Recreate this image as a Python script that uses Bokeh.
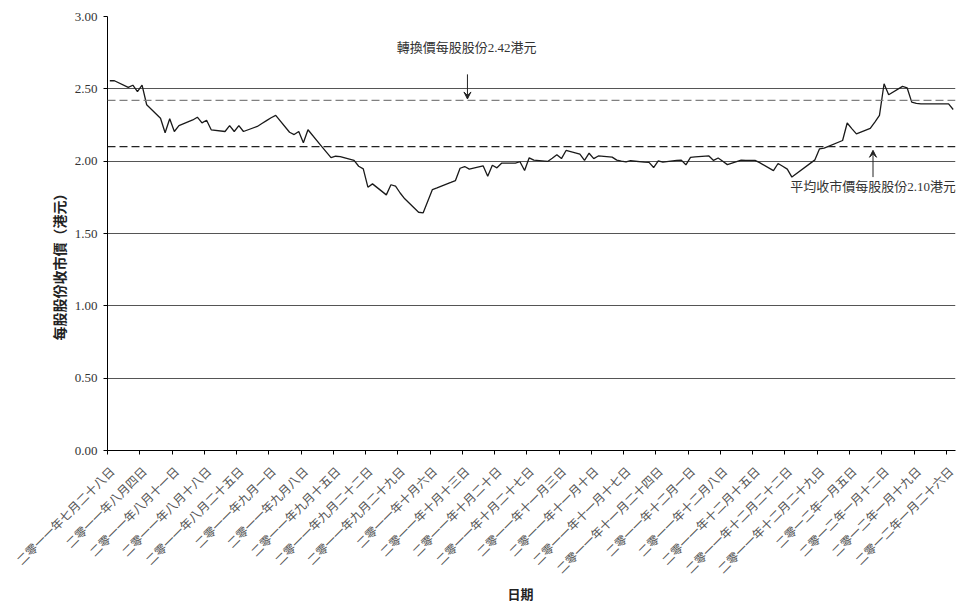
import math
import pandas as pd
from bokeh.plotting import figure
from bokeh.models import (Range1d, FixedTicker, Span, Label, Arrow, VeeHead, Title,
                          LinearAxis, PrintfTickFormatter, ColumnDataSource)
from bokeh.embed import file_html
from bokeh.resources import INLINE

# ---- data -------------------------------------------------------------
dates = [
    "2011-07-28", "2011-07-29", "2011-08-01", "2011-08-02", "2011-08-03", "2011-08-04", "2011-08-05",
    "2011-08-08", "2011-08-09", "2011-08-10", "2011-08-11", "2011-08-12",
    "2011-08-15", "2011-08-16", "2011-08-17", "2011-08-18", "2011-08-19",
    "2011-08-22", "2011-08-23", "2011-08-24", "2011-08-25", "2011-08-26",
    "2011-08-29", "2011-08-30", "2011-08-31", "2011-09-01", "2011-09-02",
    "2011-09-05", "2011-09-06", "2011-09-07", "2011-09-08", "2011-09-09",
    "2011-09-12", "2011-09-14", "2011-09-15", "2011-09-16",
    "2011-09-19", "2011-09-20", "2011-09-21", "2011-09-22", "2011-09-23",
    "2011-09-26", "2011-09-27", "2011-09-28", "2011-09-29", "2011-09-30",
    "2011-10-03", "2011-10-04", "2011-10-06", "2011-10-07",
    "2011-10-10", "2011-10-11", "2011-10-12", "2011-10-13", "2011-10-14",
    "2011-10-17", "2011-10-18", "2011-10-19", "2011-10-20", "2011-10-21",
    "2011-10-24", "2011-10-25", "2011-10-26", "2011-10-27", "2011-10-28",
    "2011-10-31", "2011-11-01", "2011-11-02", "2011-11-03", "2011-11-04",
    "2011-11-07", "2011-11-08", "2011-11-09", "2011-11-10", "2011-11-11",
    "2011-11-14", "2011-11-15", "2011-11-16", "2011-11-17", "2011-11-18",
    "2011-11-21", "2011-11-22", "2011-11-23", "2011-11-24", "2011-11-25",
    "2011-11-28", "2011-11-29", "2011-11-30", "2011-12-01", "2011-12-02",
    "2011-12-05", "2011-12-06", "2011-12-07", "2011-12-08", "2011-12-09",
    "2011-12-12", "2011-12-13", "2011-12-14", "2011-12-15", "2011-12-16",
    "2011-12-19", "2011-12-20", "2011-12-21", "2011-12-22", "2011-12-23",
    "2011-12-28", "2011-12-29", "2011-12-30",
    "2012-01-03", "2012-01-04", "2012-01-05", "2012-01-06",
    "2012-01-09", "2012-01-10", "2012-01-11", "2012-01-12", "2012-01-13",
    "2012-01-16", "2012-01-17", "2012-01-18", "2012-01-19", "2012-01-20",
    "2012-01-26", "2012-01-27",
]
prices = [
    2.556, 2.556, 2.51, 2.525, 2.48, 2.525, 2.39,
    2.297, 2.196, 2.293, 2.205, 2.246,
    2.285, 2.304, 2.265, 2.283, 2.217,
    2.205, 2.246, 2.205, 2.246, 2.205,
    2.24, 2.26, 2.28, 2.30, 2.316,
    2.20, 2.184, 2.205, 2.127, 2.217,
    2.10, 2.025, 2.034, 2.032,
    2.005, 1.965, 1.947, 1.82, 1.843,
    1.767, 1.837, 1.827, 1.78, 1.74,
    1.647, 1.643, 1.804, 1.815,
    1.853, 1.866, 1.951, 1.963, 1.945,
    1.968, 1.896, 1.972, 1.954, 1.986,
    1.986, 1.996, 1.935, 2.023, 2.007,
    1.998, 2.02, 2.045, 2.018, 2.074,
    2.048, 2.005, 2.055, 2.018, 2.036,
    2.028, 2.007, 2.0, 1.995, 2.003,
    1.993, 1.992, 1.956, 2.002, 1.994,
    2.005, 2.007, 1.975, 2.026, 2.03,
    2.036, 2.005, 2.022, 2.0, 1.976,
    2.007, 2.005, 2.005, 2.005, 1.99,
    1.935, 1.984, 1.965, 1.945, 1.89,
    2.009, 2.085, 2.09,
    2.143, 2.264, 2.225, 2.189,
    2.226, 2.27, 2.316, 2.535, 2.459,
    2.517, 2.507, 2.408, 2.40, 2.396,
    2.396, 2.357,
]
tick_labels = [
    "二零一一年七月二十八日", "二零一一年八月四日", "二零一一年八月十一日", "二零一一年八月十八日",
    "二零一一年八月二十五日", "二零一一年九月一日", "二零一一年九月八日", "二零一一年九月十五日",
    "二零一一年九月二十二日", "二零一一年九月二十九日", "二零一一年十月六日", "二零一一年十月十三日",
    "二零一一年十月二十日", "二零一一年十月二十七日", "二零一一年十一月三日", "二零一一年十一月十日",
    "二零一一年十一月十七日", "二零一一年十一月二十四日", "二零一一年十二月一日", "二零一一年十二月八日",
    "二零一一年十二月十五日", "二零一一年十二月二十二日", "二零一一年十二月二十九日", "二零一二年一月五日",
    "二零一二年一月十二日", "二零一二年一月十九日", "二零一二年一月二十六日",
]
conversion_price = 2.42
average_price = 2.10
conversion_text = "轉換價每股股份2.42港元"
average_text = "平均收市價每股股份2.10港元"
y_title = "每股股份收市價（港元）"
x_title = "日期"
y_ticks = [0.0, 0.5, 1.0, 1.5, 2.0, 2.5, 3.0]

# ---- derived ----------------------------------------------------------
start = pd.Timestamp("2011-07-28")
end = pd.Timestamp("2012-01-28")
xs = [(pd.Timestamp(d) - start).days + 0.5 for d in dates]
tick_pos = [7 * i for i in range(len(tick_labels))]
span_days = (end - start).days
label_shift = 1.1  # tick labels sit slightly right of their ticks

SERIF = "'Liberation Serif', 'Noto Sans CJK TC', serif"

src = ColumnDataSource(dict(x=xs, y=prices))

p = figure(width=959, height=602, output_backend="svg", toolbar_location=None,
           x_range=Range1d(0, span_days), y_range=Range1d(0, 3),
           min_border_left=107, min_border_right=4, min_border_top=16,
           min_border_bottom=152)
p.extra_x_ranges = {"labels": Range1d(-label_shift, span_days - label_shift)}
p.outline_line_color = None
p.background_fill_color = "white"
p.xgrid.visible = False
p.ygrid.ticker = FixedTicker(ticks=y_ticks)
p.ygrid.grid_line_color = "#555555"
p.ygrid.grid_line_width = 1

# y axis
p.yaxis.ticker = FixedTicker(ticks=y_ticks)
p.yaxis.formatter = PrintfTickFormatter(format="%.2f")
p.yaxis.major_label_text_font = SERIF
p.yaxis.major_label_text_font_size = "13px"
p.yaxis.major_label_text_color = "#333333"
p.yaxis.major_tick_out = 4
p.yaxis.major_tick_in = 0
p.yaxis.minor_tick_line_color = None
p.yaxis.major_label_standoff = 6
p.yaxis.axis_line_color = "black"

# x axis: ticks only
p.xaxis.ticker = FixedTicker(ticks=tick_pos)
p.xaxis.major_label_overrides = {t: "" for t in tick_pos}
p.xaxis.major_tick_out = 4
p.xaxis.major_tick_in = 0
p.xaxis.minor_tick_line_color = None
p.xaxis.major_label_standoff = 0
p.xaxis.axis_line_color = "black"

# x axis: rotated date labels
lab_axis = LinearAxis(x_range_name="labels", ticker=FixedTicker(ticks=tick_pos),
                      major_label_overrides={t: l for t, l in zip(tick_pos, tick_labels)},
                      major_label_orientation=math.pi / 4,
                      major_label_text_font=SERIF,
                      major_label_text_font_size="12px",
                      major_label_text_color="#555555",
                      major_tick_out=0, major_tick_in=0,
                      minor_tick_line_color=None, axis_line_color=None,
                      major_label_standoff=15)
p.add_layout(lab_axis, "below")

# reference lines
p.add_layout(Span(location=conversion_price, dimension="width", line_color="#808080",
                  line_width=1.3, line_dash="8 4"))
p.add_layout(Span(location=average_price, dimension="width", line_color="#222222",
                  line_width=1.3, line_dash="8 4"))

# price line
p.line("x", "y", source=src, line_color="#1a1a1a", line_width=1.3)

# annotations
p.add_layout(Label(x=77.9, y=2.788, text=conversion_text, text_font=SERIF,
                   text_font_size="13px", text_color="#333333",
                   text_align="center", text_baseline="middle"))
p.add_layout(Arrow(x_start=78.1, y_start=2.60, x_end=78.1, y_end=2.43,
                   line_color="#222222", line_width=1,
                   end=VeeHead(size=7, line_color="#222222", line_width=1,
                               fill_color="#222222")))
p.add_layout(Label(x=166.1, y=1.825, text=average_text, text_font=SERIF,
                   text_font_size="13px", text_color="#333333",
                   text_align="center", text_baseline="middle"))
p.add_layout(Arrow(x_start=166.1, y_start=1.89, x_end=166.1, y_end=2.075,
                   line_color="#222222", line_width=1,
                   end=VeeHead(size=7, line_color="#222222", line_width=1,
                               fill_color="#222222")))

# axis titles
p.add_layout(Title(text=y_title, align="left", offset=110, standoff=8,
                   text_font=SERIF, text_font_size="14px", text_font_style="bold",
                   text_color="#222222"), "left")
p.add_layout(Title(text=x_title, align="left", offset=400, standoff=0,
                   text_font=SERIF, text_font_size="13px", text_font_style="bold",
                   text_color="#222222"), "below")

open("out.html", "w").write(file_html(p, INLINE))
